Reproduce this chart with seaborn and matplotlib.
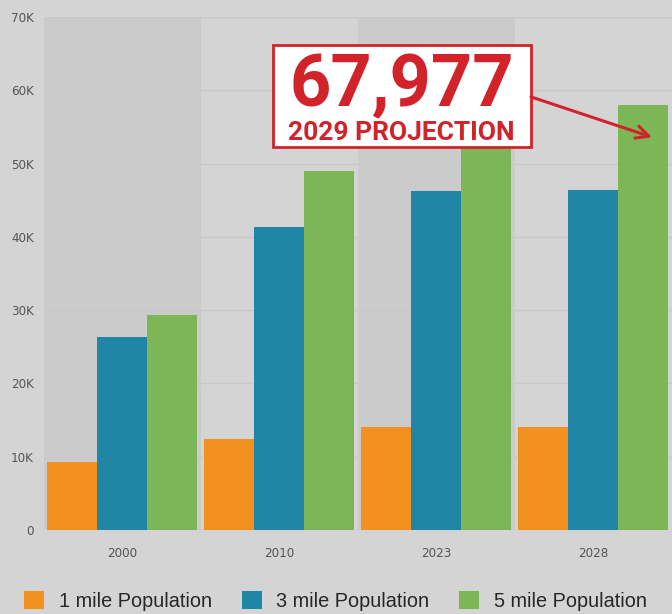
import matplotlib
matplotlib.use("Agg")
import matplotlib.pyplot as plt
from matplotlib.patches import Rectangle
import pandas as pd
import seaborn as sns

years = ["2000", "2010", "2023", "2028"]
series = ["1 mile Population", "3 mile Population", "5 mile Population"]
pop_1mi = [9300, 12400, 14050, 14050]
pop_3mi = [26300, 41300, 46200, 46400]
pop_5mi = [29300, 49000, 57600, 58000]
colors = ["#F29120", "#2185A6", "#7DB657"]
y_ticks = [0, 10000, 20000, 30000, 40000, 50000, 60000, 70000]
y_labels = ["0", "10K", "20K", "30K", "40K", "50K", "60K", "70K"]

df = pd.DataFrame({
    "year": years * 3,
    "series": [s for s in series for _ in years],
    "population": pop_1mi + pop_3mi + pop_5mi,
})

sns.set_style("white")
plt.rcParams["font.family"] = ["DejaVu Sans"]
plt.rcParams["font.stretch"] = "condensed"

bg = "#D4D4D4"
fig = plt.figure(figsize=(6.72, 6.14), dpi=100, facecolor=bg)
ax = fig.add_axes([43.5 / 672, 84 / 614, 628 / 672, 513 / 614])
ax.set_facecolor(bg)

# alternating column bands
for i in (0, 2):
    ax.axvspan(i - 0.5, i + 0.5, color="#CBCBCB", lw=0, zorder=0)

sns.barplot(data=df, x="year", y="population", hue="series", order=years,
            hue_order=series, palette=colors, saturation=1, width=0.95,
            linewidth=0, ax=ax, zorder=2)

ax.set_xlim(-0.5, 3.5)
ax.set_ylim(0, 70000)
ax.set_yticks(y_ticks)
ax.set_yticklabels(y_labels)
ax.set_xlabel("")
ax.set_ylabel("")
ax.yaxis.grid(True, color="#C9C9C9", lw=1, zorder=0.5)
ax.set_axisbelow(True)
for s in ax.spines.values():
    s.set_visible(False)
ax.tick_params(axis="y", length=0, pad=7, labelsize=9.5, labelcolor="#555555")
ax.tick_params(axis="x", length=5, width=1, color="#888888", pad=7,
               labelsize=9.5, labelcolor="#555555")

sns.move_legend(ax, "lower center", bbox_to_anchor=(0.465, -0.192), ncol=3,
                frameon=False, title=None, handlelength=1.0, handleheight=1.0,
                handletextpad=0.75, columnspacing=1.5,
                prop={"family": ["Liberation Sans", "DejaVu Sans"],
                      "stretch": "normal", "size": 14.3})

# projection callout
red = "#D2232A"
ax.add_patch(Rectangle((0.962, 52300), 1.643, 13900, facecolor="white",
                       edgecolor=red, lw=2, zorder=5, clip_on=False))
ax.text(1.78, 60500, "67,977", ha="center", va="center", color=red,
        fontsize=52, fontweight="bold", family=["Roboto", "DejaVu Sans"],
        fontstretch="normal", zorder=6)
ax.text(1.78, 54200, "2029 PROJECTION", ha="center", va="center", color=red,
        fontsize=19, fontweight="bold", family=["Roboto", "DejaVu Sans"],
        fontstretch="normal", zorder=6)
ax.annotate("", xy=(3.376, 53600), xytext=(2.605, 59100),
            arrowprops=dict(arrowstyle="->,head_length=0.9,head_width=0.45",
                            color=red, lw=2.2, shrinkA=0, shrinkB=0), zorder=6)

fig.savefig("out.png", dpi=100, facecolor=bg)
